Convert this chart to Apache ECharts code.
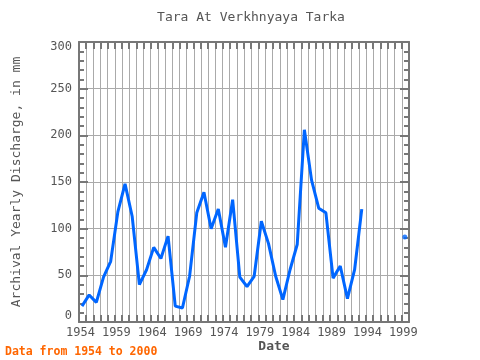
<!DOCTYPE html>
<html><head><meta charset="utf-8">
<script src="https://cdn.jsdelivr.net/npm/echarts@6/dist/echarts.min.js"></script>
<style>html,body{margin:0;padding:0;background:#fff}#c{width:480px;height:360px}</style>
</head><body><div id="c"></div>
<script>
var years = [1954,1955,1956,1957,1958,1959,1960,1961,1962,1963,1964,1965,1966,1967,1968,1969,1970,1971,1972,1973,1974,1975,1976,1977,1978,1979,1980,1981,1982,1983,1984,1985,1986,1987,1988,1989,1990,1991,1992,1993,1994,1995,1996,1997,1998,1999];
var discharge = [17,29,21,48,65,118,148,113,40,56,80,68,92,17,15,49,117,139,100,121,80,131,48,38,49,108,84,49,24,56,83,206,152,122,117,47,60,25,56,121,null,null,null,null,null,91];
var xTickLabels = ['1954','1959','1964','1969','1974','1979','1984','1989','1994','1999'];
var yTickLabels = ['0','50','100','150','200','250','300'];
var titleText = 'Tara At Verkhnyaya Tarka';
var yName = 'Archival Yearly Discharge, in mm';
var xName = 'Date';
var footer = 'Data from 1954 to 2000';

var off = 5/12;
var lineData = years.map(function(y,i){ return [y+off, discharge[i]]; });
var isolated = [];
discharge.forEach(function(v,i){
  if (v!=null && (i===0||discharge[i-1]==null) && (i===discharge.length-1||discharge[i+1]==null)) isolated.push([years[i]+off, v]);
});
var mono = 'DejaVu Sans Mono';
var chart = echarts.init(document.getElementById('c'));
chart.setOption({
  animation:false,
  backgroundColor:'#fff',
  grid:{left:79,right:71,top:42,bottom:38},
  xAxis:[{type:'value',min:1954,max:2000,interval:1,position:'bottom',
    axisLine:{show:true,onZero:false,lineStyle:{color:'#777',width:2}},
    axisTick:{show:true,inside:true,length:7,lineStyle:{color:'#777',width:2}},
    axisLabel:{color:'#555',fontFamily:mono,fontSize:12,margin:5,
      formatter:function(v){var s=String(Math.round(v));return xTickLabels.indexOf(s)>=0?'{a|'+s+'}':'';},
      rich:{a:{fontFamily:mono,fontSize:12,color:'#555',padding:[0,0,0,3]}}},
    splitLine:{show:true,lineStyle:{color:'#aaa',width:1}}},
   {type:'value',min:1954,max:2000,interval:1,position:'top',
    axisLine:{show:true,onZero:false,lineStyle:{color:'#777',width:2}},
    axisTick:{show:true,inside:true,length:7,lineStyle:{color:'#777',width:2}},
    axisLabel:{show:false},splitLine:{show:false}}],
  yAxis:[{type:'value',min:0,max:300,interval:50,position:'left',
    axisLine:{show:true,lineStyle:{color:'#777',width:2}},
    axisTick:{show:true,inside:true,length:9,lineStyle:{color:'#777',width:2}},
    minorTick:{show:true,splitNumber:5,length:5,lineStyle:{color:'#777',width:2}},
    axisLabel:{color:'#555',fontFamily:mono,fontSize:12,margin:7,
      formatter:function(v){var s=String(v);if(yTickLabels.indexOf(s)<0)return '';
        if(v===0)return '{lo|'+s+'}'; if(v===300)return '{hi|'+s+'}'; return '{n|'+s+'}';},
      rich:{n:{fontFamily:mono,fontSize:12,color:'#555'},
            lo:{fontFamily:mono,fontSize:12,color:'#555',padding:[0,0,12,0]},
            hi:{fontFamily:mono,fontSize:12,color:'#555',padding:[9,0,0,0]}}},
    splitLine:{show:true,lineStyle:{color:'#aaa',width:1}}},
   {type:'value',min:0,max:300,interval:50,position:'right',
    axisLine:{show:true,lineStyle:{color:'#777',width:2}},
    axisTick:{show:true,inside:true,length:9,lineStyle:{color:'#777',width:2}},
    minorTick:{show:true,splitNumber:5,length:5,lineStyle:{color:'#777',width:2}},
    axisLabel:{show:false},splitLine:{show:false}}],
  series:[{type:'line',data:lineData,showSymbol:false,connectNulls:false,
    lineStyle:{color:'#0066ff',width:3},itemStyle:{color:'#0066ff'},z:5},
   {type:'scatter',data:isolated,symbol:'circle',symbolSize:5,itemStyle:{color:'#0066ff'},z:6}],
  graphic:[
    {type:'text',x:251,y:18,style:{text:titleText,fill:'#555',font:'13px '+mono,align:'center',verticalAlign:'middle'}},
    {type:'text',x:17,y:182,rotation:Math.PI/2,style:{text:yName,fill:'#555',font:'13px '+mono,align:'center',verticalAlign:'middle'}},
    {type:'text',x:274,y:347,style:{text:xName,fill:'#555',font:'bold 13px '+mono,align:'center',verticalAlign:'middle'}},
    {type:'text',x:5,y:352,style:{text:footer,fill:'#ff6600',font:'bold 11.5px '+mono,align:'left',verticalAlign:'middle'}}
  ]
});
</script></body></html>
